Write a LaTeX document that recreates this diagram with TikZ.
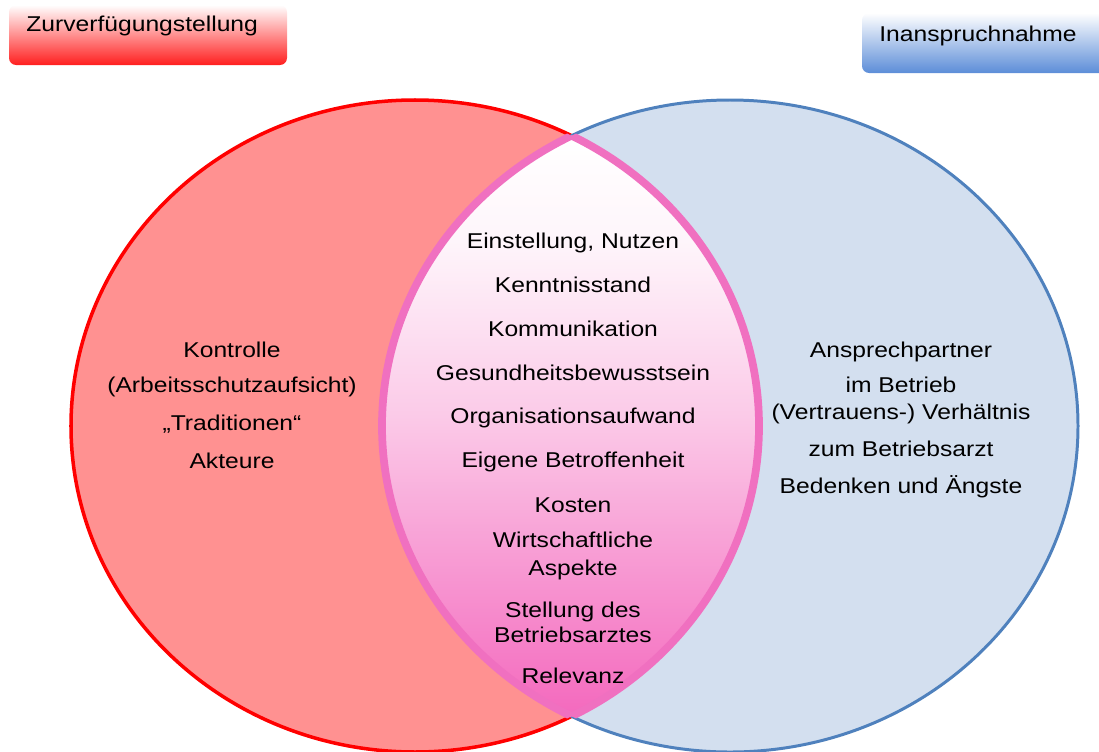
\documentclass[tikz,border=0pt]{standalone}
\usepackage{fontspec}
\setmainfont{Liberation Sans}[FakeStretch=1.15]
\usepackage{tikz}

\definecolor{kreisrot}{RGB}{255,145,145}
\definecolor{randrot}{RGB}{255,0,0}
\definecolor{kreisblau}{RGB}{211,223,239}
\definecolor{randblau}{RGB}{79,129,189}
\definecolor{lensrosa}{RGB}{244,106,190}
\definecolor{lensrand}{RGB}{240,112,192}
\definecolor{kastenblau}{RGB}{92,141,216}
\pgfdeclareverticalshading{linse}{100bp}{color(0bp)=(lensrosa); color(28bp)=(lensrosa);
  color(44bp)=(lensrosa!55); color(51bp)=(lensrosa!35); color(64bp)=(lensrosa!7);
  color(72bp)=(white); color(100bp)=(white)}

\begin{document}
\begin{tikzpicture}[x=0.02cm,y=-0.02cm,
    eintrag/.style={anchor=base,font=\fontsize{12.2}{14}\selectfont,inner sep=0pt}]
      \useasboundingbox (0,0) rectangle (1099,751);

      % Kopfkaesten
      \shade [rounded corners=4pt,top color=white,middle color=red!30,bottom color=red!88] (9,5) rectangle (287,65);
      \shade [rounded corners=4pt,top color=white,middle color=kastenblau!45,bottom color=kastenblau] (862,13) rectangle (1115,73);
      \node [eintrag,anchor=base west] (zurverf) at (26,31) {Zurverfügungstellung};
      \node [eintrag,anchor=base west] (inanspr) at (879,41) {Inanspruchnahme};

      % die beiden Kreise
      \fill [kreisrot] (415,426) ellipse [x radius=344,y radius=326];
      \fill [kreisblau] (730,426) ellipse [x radius=348,y radius=326];
      \draw [randrot,line width=2pt] (415,426) ellipse [x radius=344,y radius=326];
      \draw [randblau,line width=1.7pt] (730,426) ellipse [x radius=348,y radius=326];

      % Schnittmenge
      \begin{scope}
        \clip (415,426) ellipse [x radius=344,y radius=326];
        \shade [shading=linse] (730,426) ellipse [x radius=348,y radius=326];
        \draw [lensrand,line width=4.4pt] (730,426) ellipse [x radius=348,y radius=326];
      \end{scope}
      \begin{scope}
        \clip (730,426) ellipse [x radius=348,y radius=326];
        \draw [lensrand,line width=4.4pt] (415,426) ellipse [x radius=344,y radius=326];
      \end{scope}

      \foreach \y/\t [count=\i] in {357/Kontrolle,392/(Arbeitsschutzaufsicht),430/„Traditionen“,468/Akteure}
        \node [eintrag] (links\i) at (232,\y) {\t};

      \foreach \y/\t [count=\i] in {248/{Einstellung, Nutzen},292/Kenntnisstand,336/Kommunikation,
          380/Gesundheitsbewusstsein,423/Organisationsaufwand,467/Eigene Betroffenheit,512/Kosten,
          547/Wirtschaftliche,575/Aspekte,617/Stellung des,642/Betriebsarztes,683/Relevanz}
        \node [eintrag] (mitte\i) at (573,\y) {\t};

      \foreach \y/\t [count=\i] in {357/Ansprechpartner,392/im Betrieb,419/(Vertrauens-) Verhältnis,
          456/zum Betriebsarzt,493/Bedenken und Ängste}
        \node [eintrag] (rechts\i) at (901,\y) {\t};
    \end{tikzpicture}
\end{document}
